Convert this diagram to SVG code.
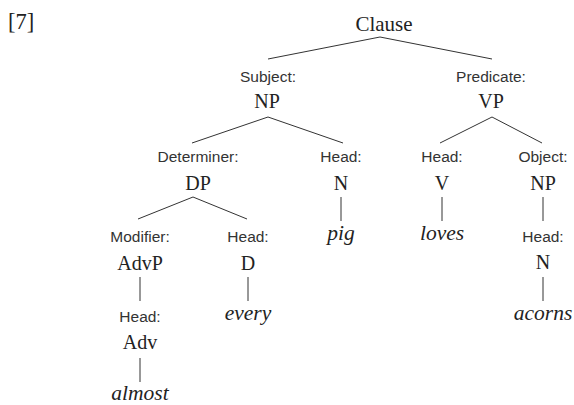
<svg xmlns="http://www.w3.org/2000/svg" width="574" height="405" viewBox="0 0 574 405">
<style>
.s{font-family:"Liberation Serif","DejaVu Serif",serif;font-size:20px;fill:#222;text-anchor:middle}
.i{font-style:italic;font-size:21.5px}
.l{font-family:"Liberation Sans",Arial,sans-serif;font-size:15.5px;fill:#333;text-anchor:middle}
.c line{stroke:#333;stroke-width:1}
</style>
<rect width="574" height="405" fill="#fff"/>
<text x="8" y="29" class="s" style="text-anchor:start;font-size:22.5px">[7]</text>
<g class="c" id="connectors">
<line x1="380" y1="37" x2="268" y2="59"/>
<line x1="380" y1="37" x2="492" y2="59"/>
<line x1="268" y1="117" x2="192" y2="143"/>
<line x1="268" y1="117" x2="343" y2="143"/>
<line x1="492" y1="117" x2="440" y2="143"/>
<line x1="492" y1="117" x2="542" y2="143"/>
<line x1="193" y1="197" x2="138" y2="219"/>
<line x1="193" y1="197" x2="247" y2="219"/>
<line x1="341" y1="197" x2="341" y2="221"/>
<line x1="442" y1="197" x2="442" y2="221"/>
<line x1="543" y1="197" x2="543" y2="221"/>
<line x1="140" y1="277" x2="140" y2="301"/>
<line x1="248" y1="277" x2="248" y2="301"/>
<line x1="543" y1="277" x2="543" y2="301"/>
<line x1="140" y1="358" x2="140" y2="382"/>
</g>
<g id="clause"><text x="384" y="31" class="s" style="font-size:21px">Clause</text></g>
<g id="subject"><text x="268" y="82" class="l">Subject:</text><text x="267" y="108" class="s">NP</text></g>
<g id="predicate"><text x="491" y="82" class="l">Predicate:</text><text x="491" y="108" class="s">VP</text></g>
<g id="determiner"><text x="198" y="162" class="l">Determiner:</text><text x="198" y="190" class="s">DP</text></g>
<g id="head-n"><text x="341" y="162" class="l">Head:</text><text x="341" y="190" class="s">N</text></g>
<g id="head-v"><text x="442" y="162" class="l">Head:</text><text x="442" y="190" class="s">V</text></g>
<g id="object"><text x="543" y="162" class="l">Object:</text><text x="543" y="190" class="s">NP</text></g>
<g id="pig"><text x="341" y="240" class="s i">pig</text></g>
<g id="loves"><text x="442" y="240" class="s i">loves</text></g>
<g id="head-n2"><text x="543" y="242" class="l">Head:</text><text x="543" y="269" class="s">N</text></g>
<g id="modifier"><text x="140" y="242" class="l">Modifier:</text><text x="140" y="270" class="s">AdvP</text></g>
<g id="head-d"><text x="248" y="242" class="l">Head:</text><text x="248" y="270" class="s">D</text></g>
<g id="head-adv"><text x="140" y="322" class="l">Head:</text><text x="140" y="349" class="s">Adv</text></g>
<g id="every"><text x="248" y="320" class="s i">every</text></g>
<g id="acorns"><text x="543" y="320" class="s i">acorns</text></g>
<g id="almost"><text x="140" y="400" class="s i">almost</text></g>
</svg>
